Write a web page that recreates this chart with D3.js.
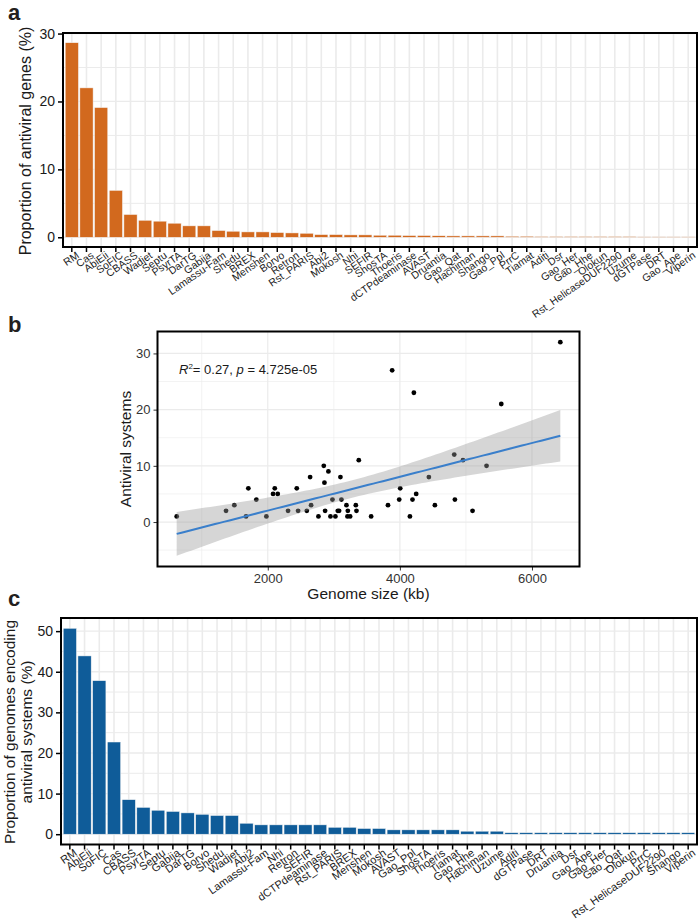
<!DOCTYPE html>
<html><head><meta charset="utf-8">
<script src="https://cdn.jsdelivr.net/npm/d3@7"></script>
<style>body{margin:0;background:#fff} svg{display:block}</style>
</head><body><svg id="chart" width="700" height="921"></svg>
<script>
// ---------- DATA ----------
const genesCategories = ["RM","Cas","AbiEii","SoFIC","CBASS","Wadjet","Septu","PsyrTA","DarTG","Gabija","Lamassu-Fam","Shedu","BREX","Menshen","Borvo","Retron","Rst_PARIS","Abi2","Mokosh","Nhi","SEFIR","ShosTA","Thoeris","dCTPdeaminase","AVAST","Druantia","Gao_Qat","Hachiman","Shango","Gao_Ppl","PrrC","Tiamat","Aditi","Dsr","Gao_Her","Gao_Hhe","Olokun","Rst_HelicaseDUF2290","Uzume","dGTPase","DRT","Gao_Ape","Viperin"];
const genesValues = [28.65,22.0,19.1,6.9,3.35,2.5,2.37,2.07,1.68,1.68,0.99,0.89,0.79,0.79,0.69,0.64,0.59,0.39,0.39,0.35,0.35,0.3,0.3,0.25,0.25,0.22,0.2,0.2,0.2,0.2,0.15,0.15,0.1,0.1,0.1,0.1,0.1,0.1,0.1,0.06,0.06,0.06,0.06];

const genomesCategories = ["RM","AbiEii","SoFIC","Cas","CBASS","PsyrTA","Septu","Gabija","DarTG","Borvo","Shedu","Wadjet","Abi2","Lamassu-Fam","Nhi","Retron","SEFIR","dCTPdeaminase","Rst_PARIS","BREX","Menshen","Mokosh","AVAST","Gao_Ppl","ShosTA","Thoeris","Tiamat","Gao_Hhe","Hachiman","Uzume","Aditi","dGTPase","DRT","Druantia","Dsr","Gao_Ape","Gao_Her","Gao_Qat","Olokun","PrrC","Rst_HelicaseDUF2290","Shango","Viperin"];
const genomesValues = [50.7,43.9,37.8,22.7,8.5,6.6,5.9,5.6,5.25,4.9,4.6,4.6,2.7,2.3,2.3,2.3,2.3,2.3,1.7,1.7,1.4,1.4,1.07,1.07,1.07,1.07,1.07,0.74,0.74,0.74,0.37,0.37,0.37,0.37,0.37,0.37,0.37,0.37,0.37,0.37,0.37,0.37,0.37];

const genomeSizeKb = [621,1368,1494,1671,1706,1827,1979,2080,2106,2151,2307,2439,2459,2591,2641,2656,2767,2848,2858,2868,2918,2949,2979,3024,3060,3080,3100,3115,3191,3206,3212,3247,3333,3343,3378,3565,3820,3883,3990,4005,4152,4191,4212,4247,4439,4530,4823,4833,4955,5100,5312,5535,6429];
const antiviralSystems = [1,2,3,1,6,4,1,5,6,5,2,6,2,2,8,3,1,10,7,2,9,1,4,1,2,2,8,4,3,1,2,1,3,2,11,1,3,27,4,6,1,4,23,5,8,3,12,4,11,2,10,21,32];

const yTicksA = [0,10,20,30];
const yTicksB = [0,10,20,30];
const xTicksB = [2000,4000,6000];
const yTicksC = [0,10,20,30,40,50];
const statsLabel = {r2: "0.27", p: "4.725e-05"};
const tQuantile = 2.0076; // t(0.975, df = n-2)

// ---------- STYLE ----------
const FONT = "'Liberation Sans', Arial, Helvetica, sans-serif";
const GRID = "#ebebeb";
const svg = d3.select("#chart").style("font-family", FONT);

function barPanel(cfg) {
  const {left, right, top, bottom, cats, vals, color, ticks, gridMax, id, labelSize, labelAngle, labelShift} = cfg;
  const g = svg.append("g");
  const max = d3.max(vals);
  const y = d3.scaleLinear().domain([-0.05 * max, 1.05 * max]).range([bottom, top]);
  const x = d3.scaleBand().domain(cats).range([left, right]).paddingInner(0.1).paddingOuter(0.15);
  svg.append("clipPath").attr("id", id).append("rect")
    .attr("x", left).attr("y", top).attr("width", right - left).attr("height", bottom - top);
  const grid = g.append("g").attr("clip-path", `url(#${id})`);
  grid.selectAll("line.h").data(d3.range(0, gridMax + 0.1, 5)).join("line")
    .attr("x1", left).attr("x2", right).attr("y1", d => y(d)).attr("y2", d => y(d))
    .attr("stroke", GRID).attr("stroke-width", d => d % 10 === 0 ? 1.3 : 1.0);
  grid.selectAll("line.v").data(cats).join("line")
    .attr("x1", d => x(d) + x.bandwidth() / 2).attr("x2", d => x(d) + x.bandwidth() / 2)
    .attr("y1", top).attr("y2", bottom)
    .attr("stroke", GRID).attr("stroke-width", 1.6);
  g.append("g").selectAll("rect").data(cats.map((c, i) => ({c, v: vals[i]}))).join("rect")
    .attr("x", d => x(d.c)).attr("width", x.bandwidth())
    .attr("y", d => y(d.v)).attr("height", d => y(0) - y(d.v))
    .attr("fill", color).attr("stroke", "#f4f4f4").attr("stroke-width", 0.5);
  const ya = g.append("g").attr("transform", `translate(${left},0)`)
    .call(d3.axisLeft(y).tickValues(ticks).tickSize(5).tickPadding(3));
  ya.select(".domain").remove();
  ya.selectAll(".tick line").attr("stroke", "#000").attr("stroke-width", 1.5);
  ya.selectAll(".tick text").attr("font-size", 14).attr("fill", "#1a1a1a").attr("font-family", FONT);
  const xa = g.append("g").attr("transform", `translate(0,${bottom})`)
    .call(d3.axisBottom(x).tickSize(5).tickPadding(0));
  xa.select(".domain").remove();
  xa.selectAll(".tick line").attr("stroke", "#000").attr("stroke-width", 1.5);
  xa.selectAll(".tick text")
    .attr("font-size", labelSize).attr("fill", "#1a1a1a").attr("font-family", FONT)
    .attr("text-anchor", "end").attr("y", 0).attr("dy", 0)
    .attr("transform", `translate(${labelShift[0]},${labelShift[1]}) rotate(${-labelAngle})`);
  g.append("rect").attr("x", left).attr("y", top).attr("width", right - left).attr("height", bottom - top)
    .attr("fill", "none").attr("stroke", "#000").attr("stroke-width", 2);
  return g;
}

// ---------- PANEL A ----------
barPanel({left: 63, right: 697, top: 33, bottom: 247, cats: genesCategories, vals: genesValues,
  color: "#D2691E", ticks: yTicksA, gridMax: 30, id: "clipA", labelSize: 10.5, labelAngle: 35, labelShift: [8, 10]});
svg.append("text").attr("transform", "translate(31,141) rotate(-90)")
  .attr("text-anchor", "middle").attr("font-size", 16).attr("fill", "#1a1a1a")
  .text("Proportion of antiviral genes (%)");

// ---------- PANEL C ----------
barPanel({left: 61, right: 697, top: 618, bottom: 844.5, cats: genomesCategories, vals: genomesValues,
  color: "#0F5C99", ticks: yTicksC, gridMax: 50, id: "clipC", labelSize: 11, labelAngle: 35, labelShift: [8, 10]});
const cTitle = svg.append("text").attr("transform", "translate(0,732) rotate(-90)")
  .attr("text-anchor", "middle").attr("font-size", 15.5).attr("fill", "#1a1a1a");
cTitle.append("tspan").attr("x", 0).attr("y", 15).text("Proportion of genomes encoding");
cTitle.append("tspan").attr("x", 0).attr("y", 32).text("antiviral systems (%)");

// ---------- PANEL B ----------
(function () {
  const left = 157.5, right = 579.5, top = 331.5, bottom = 566.5;
  const n = genomeSizeKb.length;
  const xm = d3.mean(genomeSizeKb), ym = d3.mean(antiviralSystems);
  let sxx = 0, sxy = 0;
  genomeSizeKb.forEach((xv, i) => { sxx += (xv - xm) ** 2; sxy += (xv - xm) * (antiviralSystems[i] - ym); });
  const b1 = sxy / sxx, b0 = ym - b1 * xm;
  let sse = 0;
  genomeSizeKb.forEach((xv, i) => { sse += (antiviralSystems[i] - (b0 + b1 * xv)) ** 2; });
  const s = Math.sqrt(sse / (n - 2));
  const [xmin, xmax] = d3.extent(genomeSizeKb);
  const fit = d3.range(0, 81).map(k => {
    const xv = xmin + (xmax - xmin) * k / 80;
    const yh = b0 + b1 * xv;
    const se = s * Math.sqrt(1 / n + (xv - xm) ** 2 / sxx);
    return {x: xv, y: yh, lo: yh - tQuantile * se, hi: yh + tQuantile * se};
  });
  const yLo = Math.min(d3.min(antiviralSystems), d3.min(fit, d => d.lo));
  const yHi = Math.max(d3.max(antiviralSystems), d3.max(fit, d => d.hi));
  const xr = xmax - xmin, yr = yHi - yLo;
  const x = d3.scaleLinear().domain([xmin - 0.05 * xr, xmax + 0.05 * xr]).range([left, right]);
  const y = d3.scaleLinear().domain([yLo - 0.05 * yr, yHi + 0.05 * yr]).range([bottom, top]);
  const g = svg.append("g");
  const xMinor = [1000, 3000, 5000], yMinor = [-5, 5, 15, 25];
  g.selectAll("line.xm").data(xMinor).join("line").attr("x1", d => x(d)).attr("x2", d => x(d))
    .attr("y1", top).attr("y2", bottom).attr("stroke", GRID).attr("stroke-width", 0.6);
  g.selectAll("line.ym").data(yMinor).join("line").attr("y1", d => y(d)).attr("y2", d => y(d))
    .attr("x1", left).attr("x2", right).attr("stroke", GRID).attr("stroke-width", 0.6);
  g.selectAll("line.xM").data(xTicksB).join("line").attr("x1", d => x(d)).attr("x2", d => x(d))
    .attr("y1", top).attr("y2", bottom).attr("stroke", GRID).attr("stroke-width", 1.2);
  g.selectAll("line.yM").data(yTicksB).join("line").attr("y1", d => y(d)).attr("y2", d => y(d))
    .attr("x1", left).attr("x2", right).attr("stroke", GRID).attr("stroke-width", 1.2);
  g.selectAll("circle").data(genomeSizeKb.map((xv, i) => [xv, antiviralSystems[i]])).join("circle")
    .attr("cx", d => x(d[0])).attr("cy", d => y(d[1])).attr("r", 2.4).attr("fill", "#000");
  g.append("path").datum(fit)
    .attr("d", d3.area().x(d => x(d.x)).y0(d => y(d.lo)).y1(d => y(d.hi)))
    .attr("fill", "#999999").attr("fill-opacity", 0.4);
  g.append("path").datum(fit)
    .attr("d", d3.line().x(d => x(d.x)).y(d => y(d.y)))
    .attr("fill", "none").attr("stroke", "#3A7FCB").attr("stroke-width", 2);
  const ya = g.append("g").attr("transform", `translate(${left},0)`)
    .call(d3.axisLeft(y).tickValues(yTicksB).tickSize(4).tickPadding(3));
  ya.select(".domain").remove();
  ya.selectAll(".tick line").attr("stroke", "#333");
  ya.selectAll(".tick text").attr("font-size", 13).attr("fill", "#333").attr("font-family", FONT);
  const xa = g.append("g").attr("transform", `translate(0,${bottom})`)
    .call(d3.axisBottom(x).tickValues(xTicksB).tickFormat(d3.format("d")).tickSize(4).tickPadding(3));
  xa.select(".domain").remove();
  xa.selectAll(".tick line").attr("stroke", "#333");
  xa.selectAll(".tick text").attr("font-size", 13).attr("fill", "#333").attr("font-family", FONT);
  g.append("rect").attr("x", left).attr("y", top).attr("width", right - left).attr("height", bottom - top)
    .attr("fill", "none").attr("stroke", "#000").attr("stroke-width", 2);
  svg.append("text").attr("x", (left + right) / 2).attr("y", 599).attr("text-anchor", "middle")
    .attr("font-size", 15.5).attr("fill", "#1a1a1a").text("Genome size (kb)");
  svg.append("text").attr("transform", `translate(131,${(top + bottom) / 2}) rotate(-90)`)
    .attr("text-anchor", "middle").attr("font-size", 15.5).attr("fill", "#1a1a1a").text("Antiviral systems");
  const t = svg.append("text").attr("x", 179).attr("y", 374).attr("font-size", 13).attr("fill", "#1a1a1a");
  t.append("tspan").attr("font-style", "italic").text("R");
  t.append("tspan").attr("font-size", 8).attr("dy", -5).text("2");
  t.append("tspan").attr("dy", 5).text(`= ${statsLabel.r2}, `);
  t.append("tspan").attr("font-style", "italic").text("p");
  t.append("tspan").text(` = ${statsLabel.p}`);
})();

// ---------- PANEL LETTERS ----------
[["a", 20], ["b", 332], ["c", 606]].forEach(([l, yy]) => {
  svg.append("text").attr("x", 8).attr("y", yy).attr("font-size", 22).attr("font-weight", "bold")
    .attr("fill", "#231f20").text(l);
});
</script>
</body></html>
